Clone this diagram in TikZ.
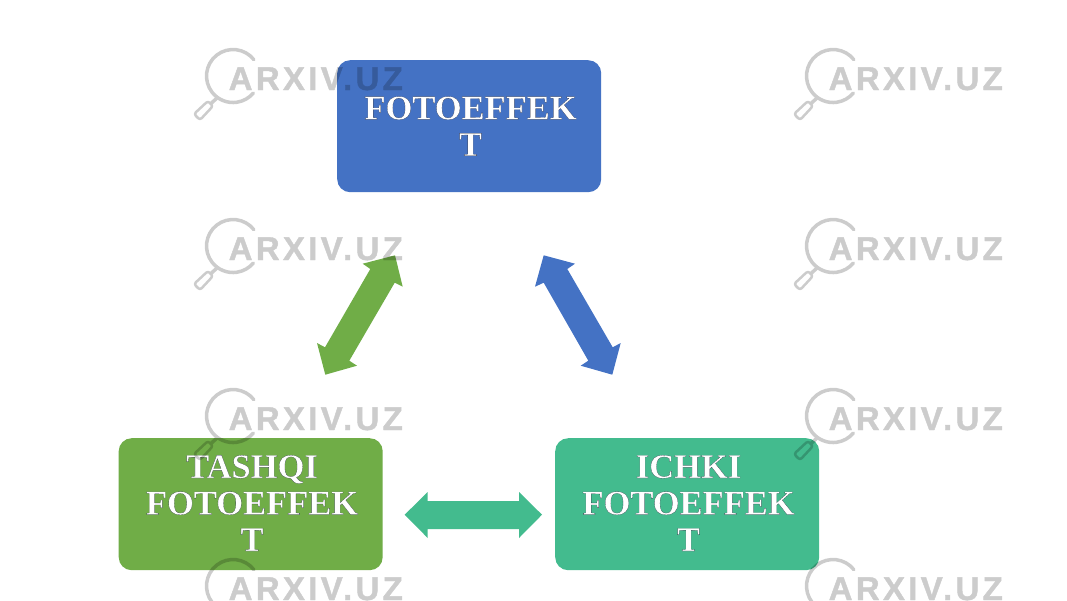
\documentclass[tikz,border=0pt]{standalone}
\usepackage{fontspec}
\setmainfont[BoldFeatures={FakeBold=0.35}]{Liberation Serif}
\newfontfamily\wmfont[LetterSpace=10,BoldFeatures={FakeBold=1.3}]{Liberation Sans}
\definecolor{cblue}{HTML}{4472C4}
\definecolor{cgreen}{HTML}{70AD47}
\definecolor{cteal}{HTML}{43BB8E}
\newcommand{\edgeink}{\special{pdf:code 0.1 0.12 0.2 RG}}
\tikzset{
  box/.style={fill=#1,rounded corners=13pt,minimum width=264pt,minimum height=132pt,anchor=north west,inner sep=0pt},
  boxtext/.style={text=white,font=\fontsize{34.5}{36.5}\selectfont\bfseries,align=center,anchor=base,inner sep=0pt},
  wmline/.style={black,draw,line width=3.5pt,line cap=round},
  wmtext/.style={text=black,font=\fontsize{33}{35}\selectfont\bfseries\wmfont,anchor=base west,inner sep=0pt}
}
\begin{document}
\begin{tikzpicture}[x=1pt,y=-1pt]
\useasboundingbox (0,0) rectangle (1067,600);
\fill[white] (0,0) rectangle (1067,600);
% boxes
\node[box=cblue] (top) at (337,60) {};
\node[box=cgreen] (left) at (118.5,438) {};
\node[box=cteal] (right) at (555,438) {};
% block arrows
\fill[cblue] (543.7,255.3) -- (575,263.7) -- (567.3,269) -- (612.7,347.3) -- (620.7,343) -- (612.3,374.7) -- (580.7,365.7) -- (588.3,360.7) -- (543.7,282.7) -- (535,286.7) -- cycle;
\fill[cgreen] (395,255.3) -- (362.7,263.7) -- (370.3,269) -- (325,347.3) -- (317,343) -- (325.3,374.7) -- (357,365.7) -- (349.3,360.7) -- (394.7,282.7) -- (402.7,286.7) -- cycle;
\fill[cteal] (404.7,514.7) -- (427.7,492) -- (427.7,501) -- (519,501) -- (519,492) -- (542,514.7) -- (519,538) -- (519,529) -- (427.7,529) -- (427.7,538) -- cycle;
% labels
\node[boxtext] (toptext) at (470.5,155.8) {\edgeink FOTOEFFEK\\\edgeink T};
\node[boxtext] (lefttext) at (252,551) {\edgeink TASHQI\\\edgeink FOTOEFFEK\\\edgeink T};
\node[boxtext] (righttext) at (688.5,551) {\edgeink ICHKI\\\edgeink FOTOEFFEK\\\edgeink T};
% watermark
\begin{scope}[transparency group,opacity=0.2]
\clip (0,0) rectangle (1067,600);
\foreach \dx in {0,600}{
  \foreach \dy in {0,170,340,510}{
    \begin{scope}[shift={(\dx,\dy)}]
      \draw[wmline] (253.9,59.7) arc[start angle=38,end angle=320,radius=26.5pt];
      \draw[wmline] (217.5,97.5) -- (211,103.5);
      \draw[black,line width=2.5pt,line join=round,rounded corners=2.5pt] (208,101) -- (213,106) -- (200,120) -- (194,114) -- cycle;
      \node[wmtext] (wm\dx\dy) at (228.5,90) {ARXIV.UZ};
    \end{scope}
  }
}
\end{scope}
\end{tikzpicture}
\end{document}
